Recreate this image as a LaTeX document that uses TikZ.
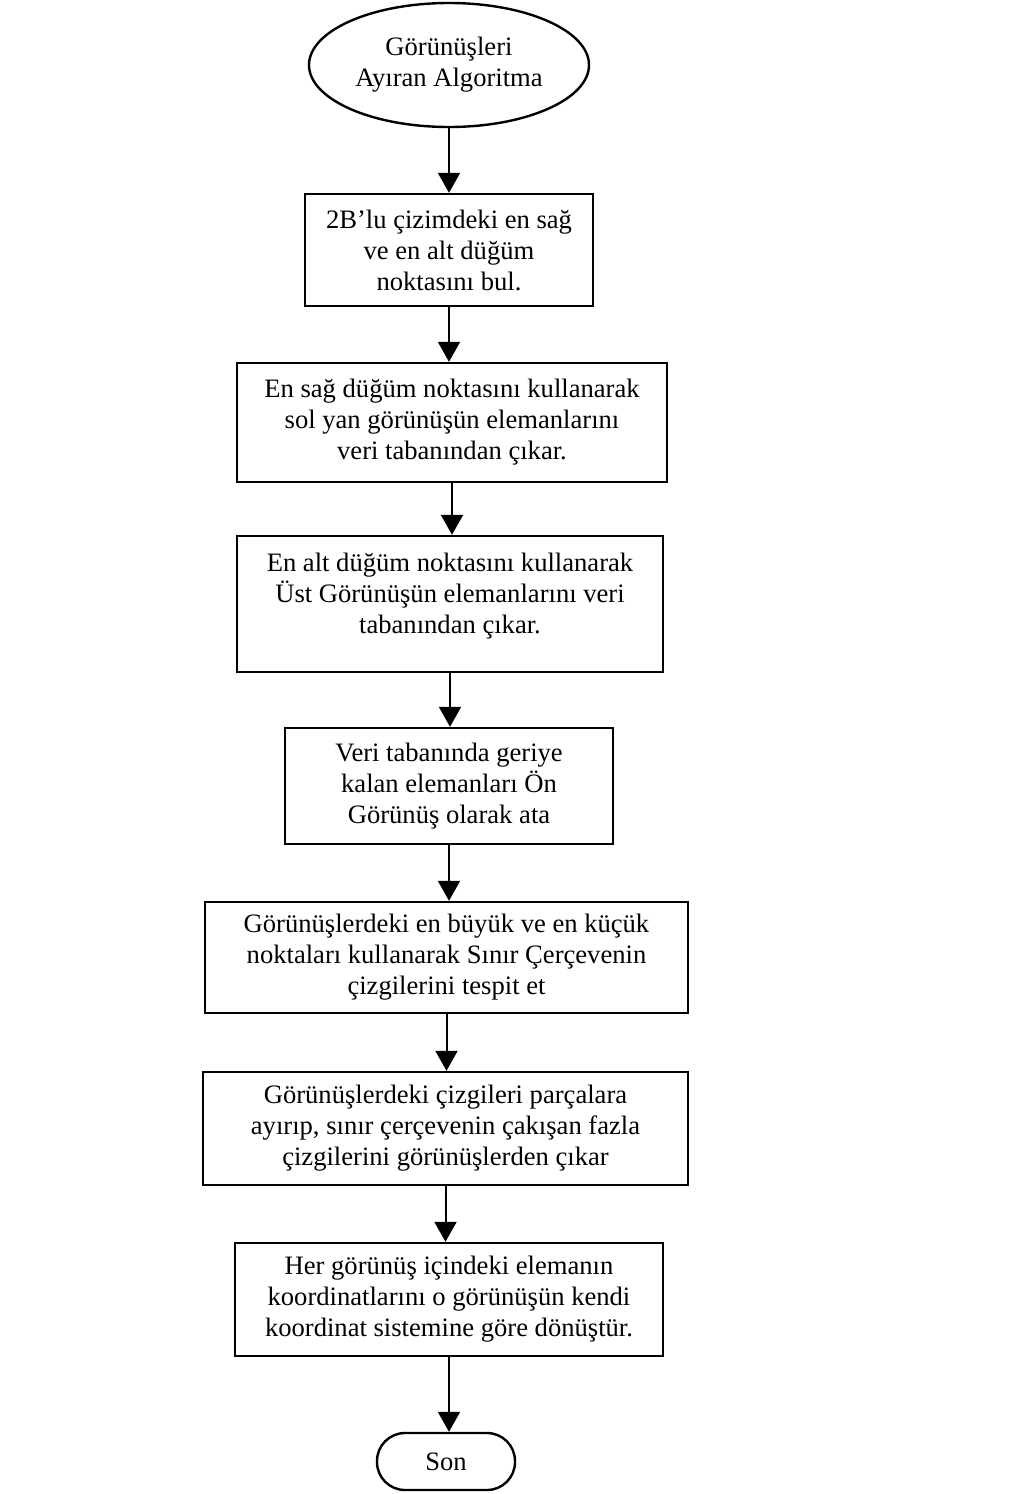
\documentclass[tikz,border=0pt]{standalone}
\usepackage{fontspec}
\setmainfont{Liberation Serif}
\usetikzlibrary{shapes.geometric,arrows.meta}
\begin{document}
\begin{tikzpicture}[x=0.5pt,y=-0.5pt,
  every node/.style={font=\fontsize{13.3pt}{15.5pt}\selectfont, align=center, inner sep=0pt},
  stepbox/.style={draw, line width=1.2pt, rectangle},
  startnode/.style={draw, line width=1.2pt, ellipse},
  endnode/.style={draw, line width=1.2pt, rectangle, rounded corners=14pt},
  arr/.style={line width=1pt, -{Triangle[length=10pt,width=11pt]}}]
\useasboundingbox (0,0) rectangle (1009,1494);

\node[startnode, minimum width=140pt, minimum height=62pt] (start) at (449,65)
  {Görünüşleri\\Ayıran Algoritma};
\node[stepbox, minimum width=144pt, minimum height=56pt] (b1) at (449,250)
  {2B’lu çizimdeki en sağ\\ve en alt düğüm\\noktasını bul.};
\node[stepbox, minimum width=215pt, minimum height=59.5pt] (b2) at (452,422.5)
  {En sağ düğüm noktasını kullanarak\\sol yan görünüşün elemanlarını\\veri tabanından çıkar.};
% taller box whose text sits a little above its middle
\node[stepbox, minimum width=213pt, minimum height=68pt] (b3) at (450,604) {};
\node (b3text) at (450,596)
  {En alt düğüm noktasını kullanarak\\Üst Görünüşün elemanlarını veri\\tabanından çıkar.};
\node[stepbox, minimum width=164pt, minimum height=58pt] (b4) at (449,786)
  {Veri tabanında geriye\\kalan elemanları Ön\\Görünüş olarak ata};
\node[stepbox, minimum width=241.5pt, minimum height=55.5pt] (b5) at (446.5,957.5)
  {Görünüşlerdeki en büyük ve en küçük\\noktaları kullanarak Sınır Çerçevenin\\çizgilerini tespit et};
\node[stepbox, minimum width=242.5pt, minimum height=56.5pt] (b6) at (445.5,1128.5)
  {Görünüşlerdeki çizgileri parçalara\\ayırıp, sınır çerçevenin çakışan fazla\\çizgilerini görünüşlerden çıkar};
\node[stepbox, minimum width=214pt, minimum height=56.5pt] (b7) at (449,1299.5)
  {Her görünüş içindeki elemanın\\koordinatlarını o görünüşün kendi\\koordinat sistemine göre dönüştür.};
\node[endnode, minimum width=69pt, minimum height=28.5pt] (son) at (446,1461.5) {Son};

\draw[arr] (start.south) -- (start.south |- b1.north);
\draw[arr] (b1.south) -- (b1.south |- b2.north);
\draw[arr] (b2.south) -- (b2.south |- b3.north);
\draw[arr] (b3.south) -- (b3.south |- b4.north);
\draw[arr] (b4.south) -- (b4.south |- b5.north);
\draw[arr] (b5.south) -- (b5.south |- b6.north);
\draw[arr] (b6.south) -- (b6.south |- b7.north);
\draw[arr] (b7.south) -- (b7.south |- son.north);
\end{tikzpicture}
\end{document}
